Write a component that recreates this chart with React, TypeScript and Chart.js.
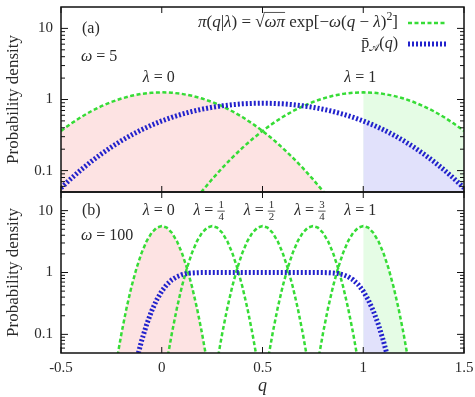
import React, { useEffect, useRef } from 'react';
import { Chart, registerables } from 'chart.js';
Chart.register(...registerables);

const _ = null;

// ---- axes ----
const X_TICKS = [-0.5, 0, 0.5, 1, 1.5];
const Y_TICKS = [0.1, 1, 10];
const Y_MINOR = [0.06, 0.07, 0.08, 0.09, 0.2, 0.3, 0.4, 0.5, 0.6, 0.7, 0.8, 0.9, 2, 3, 4, 5, 6, 7, 8, 9];

// ---- panel (a): omega = 5 ----
const Q_A = [-0.5, -0.45, -0.4, -0.35, -0.3, -0.25, -0.2, -0.15, -0.1, -0.05, 0, 0.05, 0.1, 0.15, 0.2, 0.25, 0.3, 0.35, 0.4, 0.45, 0.5,
  0.55, 0.6, 0.65, 0.7, 0.75, 0.8, 0.85, 0.9, 0.95, 1, 1.05, 1.1, 1.15, 1.2, 1.25, 1.3, 1.35, 1.4, 1.45, 1.5];
const G0_A = [0.3614, 0.4584, 0.5669, 0.6838, 0.8044, 0.9230, 1.0329, 1.1273, 1.2000, 1.2459, 1.2616, 1.2459, 1.2000, 1.1273, 1.0329, 0.9230, 0.8044, 0.6838, 0.5669, 0.4584, 0.3614,
  0.2780, 0.2085, 0.1526, 0.1089, 0.0758, 0.0514, 0.0340, 0.0220, 0.0138, 0.0085, 0.0051, 0.0030, 0.0017, 0.00094, 0.00051, 0.00027, 0.00014, 0.00007, 0.000034, 0.000016];
const G1_A = [0.000016, 0.000034, 0.00007, 0.00014, 0.00027, 0.00051, 0.00094, 0.0017, 0.0030, 0.0051, 0.0085, 0.0138, 0.0220, 0.0340, 0.0514, 0.0758, 0.1089, 0.1526, 0.2085, 0.2780,
  0.3614, 0.4584, 0.5669, 0.6838, 0.8044, 0.9230, 1.0329, 1.1273, 1.2000, 1.2459, 1.2616, 1.2459, 1.2000, 1.1273, 1.0329, 0.9230, 0.8044, 0.6838, 0.5669, 0.4584, 0.3614];
const PA_A = [0.0569, 0.0774, 0.1030, 0.1342, 0.1714, 0.2146, 0.2635, 0.3175, 0.3757, 0.4367, 0.4992, 0.5615, 0.6219, 0.6788, 0.7308, 0.7766, 0.8152, 0.8459, 0.8682, 0.8816, 0.8862,
  0.8816, 0.8682, 0.8459, 0.8152, 0.7766, 0.7308, 0.6788, 0.6219, 0.5615, 0.4992, 0.4367, 0.3757, 0.3175, 0.2635, 0.2146, 0.1714, 0.1342, 0.1030, 0.0774, 0.0569];

// ---- panel (b): omega = 100 ----
const Q_B = [-0.3, -0.275, -0.25, -0.225, -0.2, -0.175, -0.15, -0.125, -0.1, -0.075, -0.05, -0.025, 0, 0.025, 0.05, 0.075, 0.1, 0.125, 0.15, 0.175, 0.2, 0.225,
  0.25, 0.275, 0.3, 0.325, 0.35, 0.375, 0.4, 0.425, 0.45, 0.475, 0.5, 0.525, 0.55, 0.575, 0.6, 0.625, 0.65, 0.675, 0.7, 0.725, 0.75, 0.775, 0.8, 0.825,
  0.85, 0.875, 0.9, 0.925, 0.95, 0.975, 1, 1.025, 1.05, 1.075, 1.1, 1.125, 1.15, 1.175, 1.2, 1.225, 1.25, 1.275, 1.3];
const L0_B = [_, _,
  0.0109, 0.0357, 0.1033, 0.2639, 0.5946, 1.1826, 2.0755, 3.2146, 4.3939, 5.3001, 5.6419, 5.3001, 4.3939, 3.2146, 2.0755, 1.1826, 0.5946, 0.2639, 0.1033, 0.0357, 0.0109,
  _, _, _, _, _, _, _, _, _, _, _, _, _, _, _, _, _, _, _, _, _, _, _, _, _, _, _, _, _, _, _, _, _, _, _, _, _, _, _, _, _, _];
const L14_B = [_, _, _, _, _, _, _, _, _, _, _, _,
  0.0109, 0.0357, 0.1033, 0.2639, 0.5946, 1.1826, 2.0755, 3.2146, 4.3939, 5.3001, 5.6419, 5.3001, 4.3939, 3.2146, 2.0755, 1.1826, 0.5946, 0.2639, 0.1033, 0.0357, 0.0109,
  _, _, _, _, _, _, _, _, _, _, _, _, _, _, _, _, _, _, _, _, _, _, _, _, _, _, _, _, _, _, _, _];
const L12_B = [_, _, _, _, _, _, _, _, _, _, _, _, _, _, _, _, _, _, _, _, _, _,
  0.0109, 0.0357, 0.1033, 0.2639, 0.5946, 1.1826, 2.0755, 3.2146, 4.3939, 5.3001, 5.6419, 5.3001, 4.3939, 3.2146, 2.0755, 1.1826, 0.5946, 0.2639, 0.1033, 0.0357, 0.0109,
  _, _, _, _, _, _, _, _, _, _, _, _, _, _, _, _, _, _, _, _, _, _];
const L34_B = [_, _, _, _, _, _, _, _, _, _, _, _, _, _, _, _, _, _, _, _, _, _, _, _, _, _, _, _, _, _, _, _,
  0.0109, 0.0357, 0.1033, 0.2639, 0.5946, 1.1826, 2.0755, 3.2146, 4.3939, 5.3001, 5.6419, 5.3001, 4.3939, 3.2146, 2.0755, 1.1826, 0.5946, 0.2639, 0.1033, 0.0357, 0.0109,
  _, _, _, _, _, _, _, _, _, _, _, _];
const L1_B = [_, _, _, _, _, _, _, _, _, _, _, _, _, _, _, _, _, _, _, _, _, _, _, _, _, _, _, _, _, _, _, _, _, _, _, _, _, _, _, _, _, _,
  0.0109, 0.0357, 0.1033, 0.2639, 0.5946, 1.1826, 2.0755, 3.2146, 4.3939, 5.3001, 5.6419, 5.3001, 4.3939, 3.2146, 2.0755, 1.1826, 0.5946, 0.2639, 0.1033, 0.0357, 0.0109,
  _, _];
const PA_B = [0.00001, 0.00005, 0.0002, 0.0007, 0.0023, 0.0067, 0.0169, 0.0386, 0.0787, 0.1444, 0.2398, 0.3618, 0.5, 0.6382, 0.7603, 0.8556, 0.9214, 0.9615, 0.9831, 0.9933, 0.9977, 0.9993, 0.9998,
  1, 1, 1, 1, 1, 1, 1, 1, 1, 1, 1, 1, 1, 1, 1, 1, 1, 1, 1,
  0.9998, 0.9993, 0.9977, 0.9933, 0.9831, 0.9615, 0.9214, 0.8556, 0.7603, 0.6382, 0.5, 0.3618, 0.2398, 0.1444, 0.0787, 0.0386, 0.0169, 0.0067, 0.0023, 0.0007, 0.0002, 0.00005, 0.00001];

const LAMBDAS_A = [0, 1];
const LAMBDA_LABELS_A = [['0'], ['1']];
const LAMBDAS_B = [0, 0.25, 0.5, 0.75, 1];
const LAMBDA_LABELS_B = [['0'], ['1', '4'], ['1', '2'], ['3', '4'], ['1']];

// ---- styles ----
const FONT = "'Liberation Serif', 'Times New Roman', serif";
const TEXT = '#2a2a2a';
const GREEN = '#36dc36';
const BLUE = '#2222cc';
const PINK_FILL = '#fde3e3';
const GREEN_FILL = '#e5fce5';
const BLUE_FILL = '#e1e1fb';

type P = { x: number; y: number | null };
function pts(xs: number[], ys: (number | null)[], lo = -Infinity, hi = Infinity): P[] {
  const out: P[] = [];
  xs.forEach((x, i) => { if (x >= lo - 1e-9 && x <= hi + 1e-9) out.push({ x, y: ys[i] }); });
  return out;
}
function lineDs(xs: number[], ys: (number | null)[], kind: 'g' | 'b') {
  return {
    data: pts(xs, ys), borderColor: kind === 'g' ? GREEN : BLUE, borderWidth: kind === 'g' ? 2.5 : 5,
    borderDash: kind === 'g' ? [4, 2.5] : [2, 2], borderCapStyle: 'butt', pointRadius: 0, fill: false,
    tension: 0, clip: 0, spanGaps: false,
  };
}
function fillDs(xs: number[], ys: (number | null)[], color: string, lo = -Infinity, hi = Infinity) {
  return {
    data: pts(xs, ys, lo, hi), borderWidth: 0, borderColor: 'rgba(0,0,0,0)', backgroundColor: color,
    fill: 'start', pointRadius: 0, tension: 0, clip: 0, spanGaps: false,
  };
}

type Seg = { t?: string; it?: boolean; sup?: boolean; sub?: boolean; over?: boolean; frac?: string[] };
function fontOf(size: number, it?: boolean) { return `${it ? 'italic ' : ''}${size}px ${FONT}`; }
function segW(ctx: CanvasRenderingContext2D, s: Seg, size: number) {
  if (s.frac) {
    if (s.frac.length === 1) { ctx.font = fontOf(size); return ctx.measureText(s.frac[0]).width; }
    ctx.font = fontOf(size * 0.68);
    return Math.max(ctx.measureText(s.frac[0]).width, ctx.measureText(s.frac[1]).width) + 2;
  }
  const sz = s.sup || s.sub ? size * 0.7 : size;
  ctx.font = fontOf(sz, s.it);
  return ctx.measureText(s.t || '').width;
}
function drawSegs(ctx: CanvasRenderingContext2D, segs: Seg[], x: number, y: number, size: number, align: 'left' | 'right' | 'center') {
  const ws = segs.map((s) => segW(ctx, s, size));
  const total = ws.reduce((a, b) => a + b, 0);
  let cx = align === 'left' ? x : align === 'right' ? x - total : x - total / 2;
  ctx.fillStyle = TEXT; ctx.strokeStyle = TEXT; ctx.textBaseline = 'middle'; ctx.textAlign = 'left';
  segs.forEach((s, i) => {
    const w = ws[i];
    if (s.frac) {
      if (s.frac.length === 1) { ctx.font = fontOf(size); ctx.fillText(s.frac[0], cx, y); }
      else {
        ctx.font = fontOf(size * 0.68); ctx.textAlign = 'center';
        ctx.fillText(s.frac[0], cx + w / 2, y - size * 0.36);
        ctx.fillText(s.frac[1], cx + w / 2, y + size * 0.42);
        ctx.textAlign = 'left';
        ctx.lineWidth = 0.8; ctx.beginPath(); ctx.moveTo(cx, y + 0.5); ctx.lineTo(cx + w, y + 0.5); ctx.stroke();
      }
    } else {
      const sz = s.sup || s.sub ? size * 0.7 : size;
      ctx.font = fontOf(sz, s.it);
      const yy = s.sup ? y - size * 0.38 : s.sub ? y + size * 0.25 : y;
      ctx.fillText(s.t || '', cx, yy);
      if (s.over) {
        ctx.lineWidth = 0.8; ctx.beginPath(); ctx.moveTo(cx - 1, y - size * 0.62); ctx.lineTo(cx + w, y - size * 0.62); ctx.stroke();
      }
    }
    cx += w;
  });
}
function lambdaLabel(ctx: CanvasRenderingContext2D, lab: string[], cx: number, y: number) {
  drawSegs(ctx, [{ t: 'λ', it: true }, { t: ' = ' }, { frac: lab }], cx, y, 16, 'center');
}

function makeDeco(drawTexts: (ctx: CanvasRenderingContext2D, a: any, xs: any, ys: any) => void) {
  return {
    id: 'deco',
    afterDraw(chart: any) {
      const { ctx, chartArea: a } = chart;
      const xs = chart.scales.x, ys = chart.scales.y;
      ctx.save();
      ctx.setLineDash([]);
      ctx.strokeStyle = '#111';
      ctx.lineWidth = 1;
      ctx.beginPath();
      for (const v of X_TICKS) {
        const px = xs.getPixelForValue(v);
        ctx.moveTo(px, a.top); ctx.lineTo(px, a.top + 6);
        ctx.moveTo(px, a.bottom); ctx.lineTo(px, a.bottom - 6);
      }
      for (const v of Y_TICKS) {
        const py = ys.getPixelForValue(v);
        ctx.moveTo(a.left, py); ctx.lineTo(a.left + 7, py);
        ctx.moveTo(a.right, py); ctx.lineTo(a.right - 7, py);
      }
      for (const v of Y_MINOR) {
        const py = ys.getPixelForValue(v);
        ctx.moveTo(a.left, py); ctx.lineTo(a.left + 4, py);
        ctx.moveTo(a.right, py); ctx.lineTo(a.right - 4, py);
      }
      ctx.stroke();
      ctx.lineWidth = 1.5;
      ctx.strokeRect(a.left, a.top, a.right - a.left, a.bottom - a.top);
      drawTexts(ctx, a, xs, ys);
      ctx.restore();
    },
  };
}

function yScale() {
  return {
    type: 'logarithmic', min: 0.05, max: 20,
    afterBuildTicks: (s: any) => { s.ticks = Y_TICKS.map((v) => ({ value: v })); },
    afterFit: (s: any) => { s.width = 61; s.paddingTop = 0; s.paddingBottom = 0; },
    ticks: { font: { family: FONT, size: 15 }, color: TEXT, padding: 8, callback: (v: any) => String(v) },
    grid: { display: false, drawTicks: false }, border: { display: false },
    title: { display: true, text: 'Probability density', font: { family: FONT, size: 17 }, color: TEXT, padding: { top: 3, bottom: 0 } },
  };
}

const commonPlugins = { legend: { display: false }, tooltip: { enabled: false }, filler: { drawTime: 'beforeDatasetsDraw' } };

export default function App() {
  const refA = useRef<HTMLCanvasElement>(null);
  const refB = useRef<HTMLCanvasElement>(null);
  useEffect(() => {
    const decoA = makeDeco((ctx, a, xs, ys) => {
      drawSegs(ctx, [{ t: '(a)' }], a.left + 21, a.top + 22, 16, 'left');
      drawSegs(ctx, [{ t: 'ω', it: true }, { t: ' = 5' }], a.left + 20, a.top + 50, 16, 'left');
      LAMBDAS_A.forEach((l, i) => lambdaLabel(ctx, LAMBDA_LABELS_A[i], xs.getPixelForValue(l) - 3, ys.getPixelForValue(2)));
      const lx = a.right - 66;
      drawSegs(ctx, [
        { t: 'π', it: true }, { t: '(' }, { t: 'q', it: true }, { t: '|' }, { t: 'λ', it: true }, { t: ') = √' },
        { t: 'ωπ', it: true, over: true }, { t: ' exp[−' }, { t: 'ω', it: true }, { t: '(' }, { t: 'q', it: true },
        { t: ' − ' }, { t: 'λ', it: true }, { t: ')' }, { t: '2', sup: true }, { t: ']' },
      ], lx, a.top + 16, 17, 'right');
      drawSegs(ctx, [{ t: 'p̄' }, { t: '𝒜', sub: true }, { t: '(' }, { t: 'q', it: true }, { t: ')' }], lx, a.top + 37, 16, 'right');
      ctx.lineCap = 'butt';
      ctx.strokeStyle = GREEN; ctx.lineWidth = 2.5; ctx.setLineDash([4, 2.5]);
      ctx.beginPath(); ctx.moveTo(a.right - 56, a.top + 16); ctx.lineTo(a.right - 17, a.top + 16); ctx.stroke();
      ctx.strokeStyle = BLUE; ctx.lineWidth = 5; ctx.setLineDash([2, 2]);
      ctx.beginPath(); ctx.moveTo(a.right - 56, a.top + 37); ctx.lineTo(a.right - 17, a.top + 37); ctx.stroke();
    });
    const decoB = makeDeco((ctx, a, xs, ys) => {
      drawSegs(ctx, [{ t: '(b)' }], a.left + 21, a.top + 19, 16, 'left');
      drawSegs(ctx, [{ t: 'ω', it: true }, { t: ' = 100' }], a.left + 20, a.top + 44, 16, 'left');
      LAMBDAS_B.forEach((l, i) => lambdaLabel(ctx, LAMBDA_LABELS_B[i], xs.getPixelForValue(l) - 3, ys.getPixelForValue(10)));
    });

    const cA = new Chart(refA.current as HTMLCanvasElement, {
      type: 'line',
      data: {
        datasets: [
          lineDs(Q_A, PA_A, 'b'),
          lineDs(Q_A, G0_A, 'g'),
          lineDs(Q_A, G1_A, 'g'),
          fillDs(Q_A, PA_A, BLUE_FILL, 1, 1.5),
          fillDs(Q_A, G1_A, GREEN_FILL, 1, 1.5),
          fillDs(Q_A, G0_A, PINK_FILL),
        ] as any,
      },
      options: {
        animation: false, responsive: false, maintainAspectRatio: false,
        layout: { padding: { top: 7, right: 11, bottom: 8, left: 0 } },
        plugins: commonPlugins as any,
        scales: {
          x: { type: 'linear', min: -0.5, max: 1.5, display: false },
          y: yScale() as any,
        },
      },
      plugins: [decoA as any],
    });

    const cB = new Chart(refB.current as HTMLCanvasElement, {
      type: 'line',
      data: {
        datasets: [
          lineDs(Q_B, PA_B, 'b'),
          lineDs(Q_B, L0_B, 'g'),
          lineDs(Q_B, L14_B, 'g'),
          lineDs(Q_B, L12_B, 'g'),
          lineDs(Q_B, L34_B, 'g'),
          lineDs(Q_B, L1_B, 'g'),
          fillDs(Q_B, PA_B, BLUE_FILL, 1, 1.5),
          fillDs(Q_B, L1_B, GREEN_FILL, 1, 1.5),
          fillDs(Q_B, L0_B, PINK_FILL),
        ] as any,
      },
      options: {
        animation: false, responsive: false, maintainAspectRatio: false,
        layout: { padding: { top: 2, right: 11, bottom: 0, left: 0 } },
        plugins: commonPlugins as any,
        scales: {
          x: {
            type: 'linear', min: -0.5, max: 1.5,
            afterBuildTicks: (s: any) => { s.ticks = X_TICKS.map((v) => ({ value: v })); },
            afterFit: (s: any) => { s.height = 44; s.paddingLeft = 0; s.paddingRight = 0; },
            ticks: { font: { family: FONT, size: 15 }, color: TEXT, padding: 6, maxRotation: 0, autoSkip: false, callback: (v: any) => String(v) },
            grid: { display: false, drawTicks: false }, border: { display: false },
            title: { display: true, text: 'q', font: { family: FONT, size: 18, style: 'italic' }, color: TEXT, padding: { top: 0, bottom: 0 } },
          } as any,
          y: yScale() as any,
        },
      },
      plugins: [decoB as any],
    });
    return () => { cA.destroy(); cB.destroy(); };
  }, []);

  return (
    <div style={{ position: 'fixed', left: 0, top: 0, width: 475, height: 397, background: '#fff' }}>
      <canvas ref={refA} width={475} height={200} style={{ position: 'absolute', left: 0, top: 0 }} />
      <canvas ref={refB} width={475} height={207} style={{ position: 'absolute', left: 0, top: 190 }} />
    </div>
  );
}
